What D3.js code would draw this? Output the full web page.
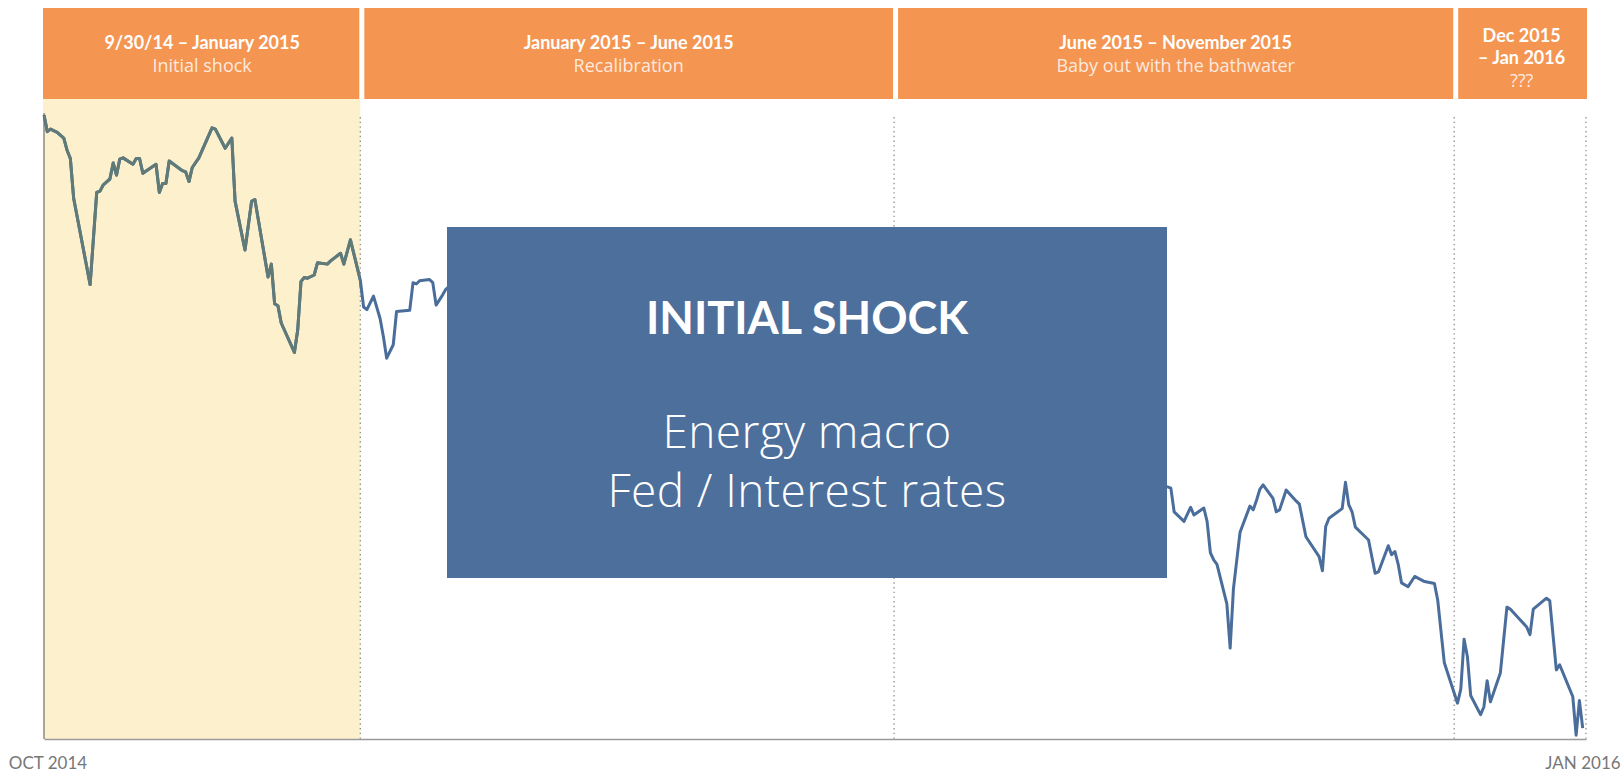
<!DOCTYPE html>
<html>
<head>
<meta charset="utf-8">
<script src="https://cdn.jsdelivr.net/npm/d3@7"></script>
<style>
  body { margin: 0; background: #fff; }
  svg { display: block; }
</style>
</head>
<body>
<script>
// Series: trading days counted from the start date
const startDate = "2014-09-30";
const endDate = "2016-01-11";
const dayOffsets = [
  0, 1, 2, 4, 6, 7, 8, 9, 14, 16, 17, 18, 20, 21, 22, 23, 24, 27, 28, 29, 30,
  34, 35, 36, 37, 38, 42, 43, 44, 45, 47, 51, 52, 55, 57, 58, 61, 63, 64, 68,
  69, 70, 71, 72, 76, 77, 78, 79, 80, 82, 83, 86, 87, 90, 91, 93, 96, 97, 98,
  100, 102, 103, 104, 106, 107, 111, 112, 113, 114, 117, 118, 119, 121, 122,
  126, 133, 140, 148, 155, 163, 170, 178, 186, 194, 202, 210, 218, 226, 234,
  242, 250, 258, 266, 274, 282, 290, 298, 306, 314, 322, 330, 336,
  341, 342, 343, 346, 348, 349, 352, 353, 354, 355, 356, 359, 360, 361, 363,
  366, 367, 368, 369, 370, 373, 374, 375, 377, 380, 381, 383, 387, 388, 389,
  390, 394, 395, 396, 397, 398, 401, 402, 404, 405, 408, 409, 410, 411, 412,
  414, 416, 419, 422, 423, 425, 429, 430, 431, 432, 433, 436, 437, 438, 439,
  442, 444, 445, 450, 451, 452, 456, 457, 459, 460, 464, 465, 466, 467
];
const values = [
  97.5, 94.9, 95.3, 94.8, 93.9, 92.0, 90.7, 84.5, 71.0, 85.4, 85.6, 86.6, 87.5, 90.0, 88.1, 90.6, 90.8, 89.8, 90.7, 90.7, 88.4,
  89.8, 85.4, 86.8, 86.8, 90.3, 88.8, 88.6, 87.1, 89.3, 90.8, 95.5, 95.3, 92.3, 93.9, 84.0, 76.4, 84.0, 84.3, 72.2,
  74.2, 68.0, 67.7, 65.0, 60.4, 63.9, 71.5, 72.1, 72.0, 72.5, 74.4, 74.2, 74.7, 75.9, 74.2, 78.0, 71.7, 67.5, 67.1,
  69.2, 65.7, 62.9, 59.5, 61.6, 66.8, 67.0, 71.3, 71.1, 71.6, 71.8, 71.3, 67.8, 69.4, 70.3,
  72.0, 66.0, 69.0, 62.0, 65.0, 60.0, 63.0, 58.0, 61.0, 55.0, 58.0, 54.0, 57.0, 52.0, 55.0,
  50.0, 53.0, 48.0, 51.0, 46.0, 49.0, 44.0, 47.0, 42.0, 45.0, 41.0, 44.0, 40.0,
  39.4, 39.2, 35.5, 34.0, 36.2, 35.0, 36.1, 34.0, 29.1, 28.0, 27.3, 21.1, 14.2, 23.5, 32.3,
  36.4, 35.8, 37.3, 39.0, 39.7, 37.6, 35.5, 35.8, 38.9, 37.2, 36.7, 31.6, 28.5, 26.3, 33.2,
  34.5, 36.0, 40.1, 36.6, 35.5, 33.1, 31.6, 31.1, 25.9, 26.1, 30.2, 28.8, 29.3, 27.3, 24.4,
  23.8, 25.4, 24.6, 24.3, 21.7, 11.9, 5.6, 7.8, 15.6, 12.9, 6.8, 3.8, 5.0, 9.1, 5.8,
  10.3, 20.6, 20.3, 17.5, 16.3, 20.3, 22.0, 21.6, 10.8, 11.6, 6.6, 0.6, 6.0, 1.7
];

// Periods shown in the header
const periodStarts = ["2014-09-30", "2015-01-04", "2015-06-15", "2015-12-02"];
const periodEnds = ["2015-01-04", "2015-06-15", "2015-12-02", "2016-01-11"];
const periodTitles = [
  ["9/30/14 – January 2015"],
  ["January 2015 – June 2015"],
  ["June 2015 – November 2015"],
  ["Dec 2015", "– Jan 2016"]
];
const periodSubtitles = ["Initial shock", "Recalibration", "Baby out with the bathwater", "???"];
const highlighted = 0;

const axisLabels = ["OCT 2014", "JAN 2016"];
const calloutTitle = "INITIAL SHOCK";
const calloutLines = ["Energy macro", "Fed / Interest rates"];

// Layout
var margin = { top: 99, right: 35, bottom: 34, left: 44 },
    width = 1621 - margin.left - margin.right,
    height = 773 - margin.top - margin.bottom;
var callout = { x: 403, y: 128, w: 720, h: 351 };

var parse = d3.timeParse("%Y-%m-%d");
var start = parse(startDate);
var data = dayOffsets.map((d, i) => ({ date: d3.timeDay.offset(start, d), value: values[i] }));

var xScale = d3.scaleTime().range([0, width]).domain([start, parse(endDate)]);
var yScale = d3.scaleLinear().range([height, 0]).domain([0, 100]);

var svg = d3.select("body").append("svg")
    .attr("width", width + margin.left + margin.right)
    .attr("height", height + margin.top + margin.bottom)
    .append("g")
    .attr("transform", "translate(" + margin.left + "," + margin.top + ")");

var hx0 = xScale(parse(periodStarts[highlighted])) - 1,
    hx1 = xScale(parse(periodEnds[highlighted]));

// Shaded period
svg.append("rect")
    .attr("x", hx0).attr("y", 0)
    .attr("width", hx1 - hx0).attr("height", height)
    .attr("fill", "#fdf0cd");

svg.append("clipPath").attr("id", "hl")
    .append("rect")
    .attr("x", hx0).attr("y", -10)
    .attr("width", hx1 - hx0).attr("height", height + 20);

// Dotted period separators
svg.selectAll(".sep")
    .data(periodEnds)
    .enter()
    .append("line")
    .attr("class", "sep")
    .attr("x1", d => xScale(parse(d))).attr("x2", d => xScale(parse(d)))
    .attr("y1", 18).attr("y2", height)
    .attr("stroke", "#8f8f8f")
    .attr("stroke-width", 1.3)
    .attr("stroke-dasharray", "1.4,3.3");

// Axes
svg.append("line")
    .attr("x1", 0).attr("x2", 0)
    .attr("y1", 14).attr("y2", height)
    .attr("stroke", "#8d8d86")
    .attr("stroke-width", 1.5);

var xAxis = svg.append("g")
    .attr("transform", "translate(0," + height + ")")
    .call(d3.axisBottom(xScale)
        .tickValues(xScale.domain())
        .tickSize(0)
        .tickSizeOuter(0)
        .tickPadding(18)
        .tickFormat((d, i) => axisLabels[i]));
xAxis.select(".domain").attr("stroke", "#9a9a9a").attr("stroke-width", 1.5);
xAxis.selectAll("text")
    .attr("font-family", "Lato, 'Open Sans', sans-serif")
    .attr("font-size", "17px")
    .attr("fill", "#777")
    .attr("dx", (d, i) => i === 0 ? 3.5 : -3.5);

// Price line, blue outside the shaded period and grey-green inside it
var lines = d3.line()
    .x(d => xScale(d.date))
    .y(d => yScale(d.value));

svg.append("path")
    .datum(data)
    .attr("fill", "none")
    .attr("stroke", "#4a6d9b")
    .attr("stroke-width", 3)
    .attr("stroke-linejoin", "round")
    .attr("d", lines);

svg.append("path")
    .datum(data)
    .attr("clip-path", "url(#hl)")
    .attr("fill", "none")
    .attr("stroke", "#607a77")
    .attr("stroke-width", 3)
    .attr("stroke-linejoin", "round")
    .attr("d", lines);

// Callout box
svg.append("rect")
    .attr("x", callout.x).attr("y", callout.y)
    .attr("width", callout.w).attr("height", callout.h)
    .attr("fill", "#4d6f9b");

var cx = callout.x + callout.w / 2;
svg.append("text")
    .attr("x", cx).attr("y", callout.y + 107)
    .attr("text-anchor", "middle")
    .attr("font-family", "Lato, sans-serif")
    .attr("font-weight", "bold")
    .attr("font-size", "45px")
    .attr("fill", "#fff")
    .text(calloutTitle);

svg.selectAll(".cline")
    .data(calloutLines)
    .enter()
    .append("text")
    .attr("x", cx)
    .attr("y", (d, i) => callout.y + 221 + i * 59)
    .attr("text-anchor", "middle")
    .attr("font-family", "'Open Sans', sans-serif")
    .attr("font-weight", 300)
    .attr("font-size", "46px")
    .attr("letter-spacing", "0.4px")
    .attr("fill", "#fff")
    .text(d => d);

// Header boxes
var last = periodStarts.length - 1;
var header = svg.selectAll(".head")
    .data(periodStarts)
    .enter()
    .append("g")
    .attr("class", "head");

header.append("rect")
    .attr("x", (d, i) => xScale(parse(d)) + (i === 0 ? -1 : 4))
    .attr("y", -91)
    .attr("width", (d, i) => {
        var l = xScale(parse(d)) + (i === 0 ? -1 : 4);
        var r = xScale(parse(periodEnds[i])) + (i === last ? 1 : -1);
        return r - l;
    })
    .attr("height", 91)
    .attr("fill", "#f59552");

header.each(function (d, i) {
    var g = d3.select(this);
    var mid = (xScale(parse(d)) + xScale(parse(periodEnds[i]))) / 2 + (i === 0 ? 0 : 1.5);
    var t = periodTitles[i];
    var top = t.length > 1 ? -57 : -50;
    t.forEach(function (line, j) {
        g.append("text")
            .attr("x", mid).attr("y", top + j * 22)
            .attr("text-anchor", "middle")
            .attr("font-family", "Lato, sans-serif")
            .attr("font-weight", "bold")
            .attr("font-size", "18px")
            .attr("fill", "#fff")
            .text(line);
    });
    g.append("text")
        .attr("x", mid).attr("y", top + t.length * 22 + 1)
        .attr("text-anchor", "middle")
        .attr("font-family", "'Open Sans', sans-serif")
        .attr("font-size", "18px")
        .attr("fill", "#fff")
        .attr("fill-opacity", 0.82)
        .text(periodSubtitles[i]);
});
</script>
</body>
</html>
